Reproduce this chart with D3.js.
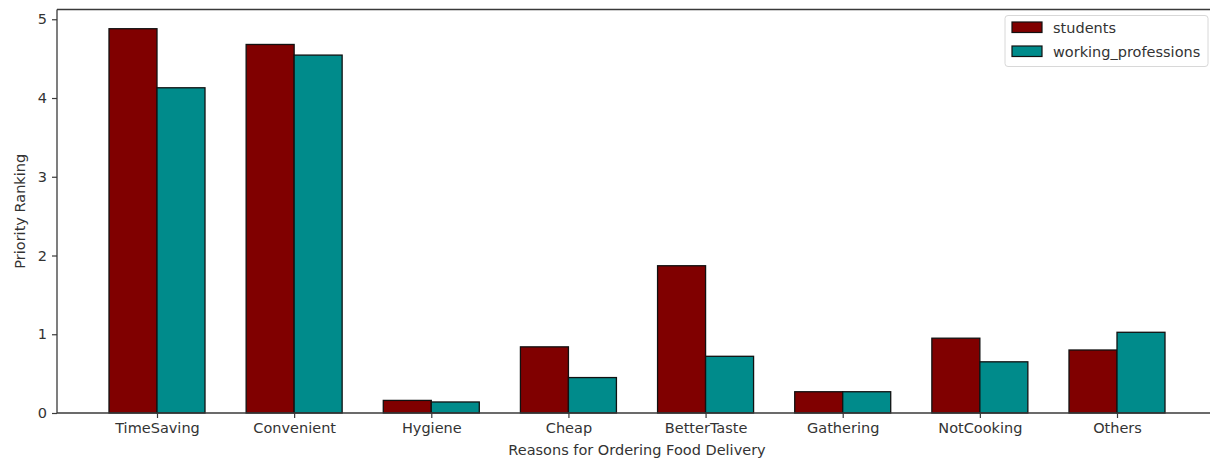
<!DOCTYPE html>
<html><head><meta charset="utf-8">
<script src="https://cdn.jsdelivr.net/npm/d3@7"></script>
<style>body{margin:0;background:#fff;}svg{display:block;}text{font-family:"DejaVu Sans",sans-serif;}</style>
</head><body>
<svg id="chart" width="1210" height="459"></svg>
<script>
const categories = ["TimeSaving","Convenient","Hygiene","Cheap","BetterTaste","Gathering","NotCooking","Others"];
const students = [4.88, 4.68, 0.16, 0.84, 1.87, 0.27, 0.95, 0.80];
const working_professions = [4.13, 4.545, 0.14, 0.45, 0.72, 0.27, 0.65, 1.025];
const seriesNames = ["students","working_professions"];
const seriesColors = ["#800000","#008b8b"];
const yTicks = [0,1,2,3,4,5];
const xLabel = "Reasons for Ordering Food Delivery";
const yLabel = "Priority Ranking";

const svg = d3.select("#chart");
const pLeft = 57, pRight = 1217.8, pTop = 9.5, pBottom = 413;
const barW = 0.35;
const x = d3.scaleLinear().domain([-0.735, 7.735]).range([56.2, 1217.8]);
const y = d3.scaleLinear().domain([0, 5.124]).range([pBottom, pTop]);
const fs = 14.5;
const spine = "#3a3a3a";

const series = [students, working_professions];
series.forEach((vals, si) => {
  svg.append("g").selectAll("rect").data(vals).join("rect")
    .attr("x", (d,i) => x(i + (si === 0 ? -barW : 0)))
    .attr("width", (d,i) => x(i + barW) - x(i))
    .attr("y", d => y(d))
    .attr("height", d => y(0) - y(d))
    .attr("fill", seriesColors[si])
    .attr("stroke", "#111")
    .attr("stroke-width", 1.3);
});

// axes
const xAxis = d3.axisBottom(x).tickValues(d3.range(categories.length)).tickFormat(i => categories[i]).tickSize(5).tickPadding(5);
const gx = svg.append("g").attr("transform", `translate(0,${pBottom})`).call(xAxis);
gx.select(".domain").remove();
gx.selectAll("line").attr("stroke", spine).attr("stroke-width", 1.2);
gx.selectAll("text").attr("font-size", fs).attr("fill", "#333").attr("font-family", "DejaVu Sans");

const yAxis = d3.axisLeft(y).tickValues(yTicks).tickFormat(d3.format("d")).tickSize(5).tickPadding(5);
const gy = svg.append("g").attr("transform", `translate(${pLeft},0)`).call(yAxis);
gy.select(".domain").remove();
gy.selectAll("line").attr("stroke", spine).attr("stroke-width", 1.2);
gy.selectAll("text").attr("font-size", fs).attr("fill", "#333").attr("font-family", "DejaVu Sans");

// spines
svg.append("line").attr("x1", pLeft).attr("x2", pLeft).attr("y1", pTop).attr("y2", pBottom).attr("stroke", spine).attr("stroke-width", 1.3);
svg.append("line").attr("x1", pLeft).attr("x2", pRight).attr("y1", pBottom).attr("y2", pBottom).attr("stroke", spine).attr("stroke-width", 1.3);
svg.append("line").attr("x1", pLeft).attr("x2", pRight).attr("y1", pTop).attr("y2", pTop).attr("stroke", spine).attr("stroke-width", 1.3);
svg.append("line").attr("x1", pRight).attr("x2", pRight).attr("y1", pTop).attr("y2", pBottom).attr("stroke", spine).attr("stroke-width", 1.3);

// labels
svg.append("text").attr("x", (x.range()[0]+x.range()[1])/2).attr("y", 455).attr("text-anchor", "middle")
  .attr("font-size", fs).attr("fill", "#333").text(xLabel);
svg.append("text").attr("transform", `translate(25,${(pTop+pBottom)/2}) rotate(-90)`).attr("text-anchor", "middle")
  .attr("font-size", fs).attr("fill", "#333").text(yLabel);

// legend
const lg = svg.append("g");
lg.append("rect").attr("x", 1005).attr("y", 15.5).attr("width", 203).attr("height", 51).attr("rx", 3)
  .attr("fill", "#fff").attr("fill-opacity", 0.8).attr("stroke", "#d8d8d8").attr("stroke-width", 1);
seriesNames.forEach((n, i) => {
  const yy = 22 + i * 24;
  lg.append("rect").attr("x", 1012).attr("y", yy).attr("width", 30).attr("height", 10.5)
    .attr("fill", seriesColors[i]).attr("stroke", "#111").attr("stroke-width", 1.2);
  lg.append("text").attr("x", 1053).attr("y", yy + 10.5).attr("font-size", fs).attr("fill", "#333").text(n);
});
</script>
</body></html>
